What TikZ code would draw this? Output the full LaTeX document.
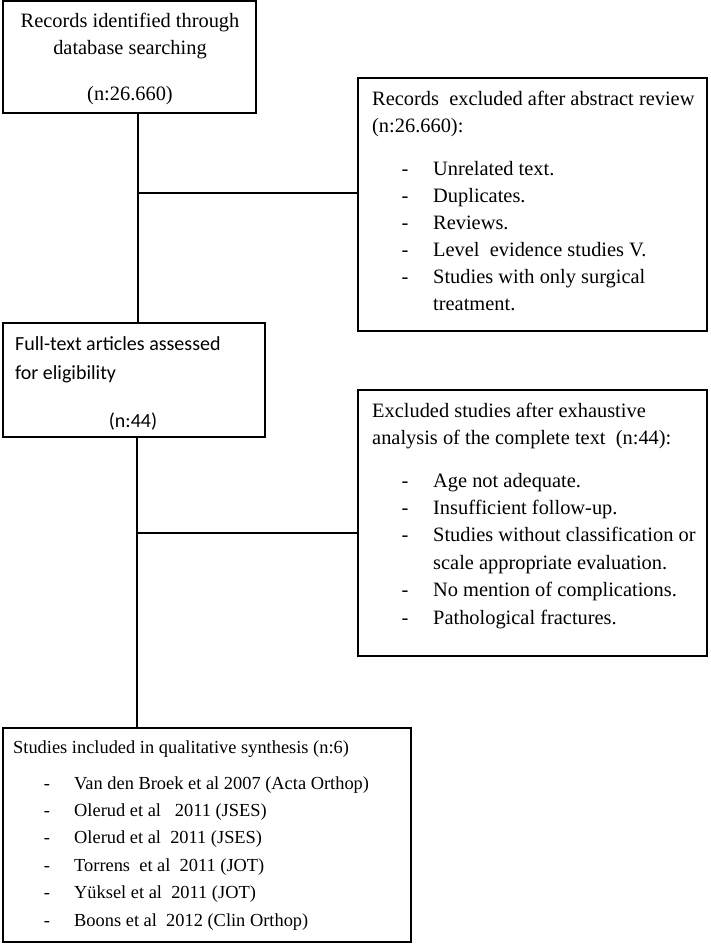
\documentclass[tikz,border=0pt]{standalone}
\usepackage{fontspec}
\setmainfont{Liberation Serif}
\newfontfamily\carlitofont{Carlito}
\begin{document}
\begin{tikzpicture}[x=1pt,y=-1pt,
  box/.style={draw, line width=1.8pt, inner sep=0pt, rectangle},
  txt/.style={inner sep=0pt, anchor=base west, font=\fontsize{20.4pt}{24pt}\selectfont},
  ctxt/.style={txt, anchor=base},
  stxt/.style={inner sep=0pt, anchor=base west, font=\fontsize{18.4pt}{22pt}\selectfont},
  sctxt/.style={stxt, anchor=base},
  ftxt/.style={inner sep=0pt, anchor=base west, font=\carlitofont\fontsize{20pt}{24pt}\selectfont},
  link/.style={line width=1.8pt}]
\useasboundingbox (0,0) rectangle (710,945);
\fill[white] (0,0) rectangle (710,945);

% boxes
\node[box, minimum width=253pt, minimum height=112pt] (b1) at (129.5,57) {};
\node[box, minimum width=349pt, minimum height=253pt] (b3) at (532.5,204.5) {};
\node[box, minimum width=262pt, minimum height=114pt] (b2) at (134,380) {};
\node[box, minimum width=349pt, minimum height=266pt] (b4) at (532.5,523) {};
\node[box, minimum width=408pt, minimum height=214pt] (b5) at (207,835) {};

% connectors
\coordinate (j1) at (138,193);
\coordinate (j2) at (137,533);
\draw[link] (b1.south -| j1) -- (b2.north -| j1);
\draw[link] (j1) -- (j1 -| b3.west);
\draw[link] (b2.south -| j2) -- (b5.north -| j2);
\draw[link] (j2) -- (j2 -| b4.west);

% box 1 text
\node[ctxt] (t1a) at (130,27) {Records identified through};
\node[ctxt] (t1b) at (130,54) {database searching};
\node[ctxt] (t1c) at (130,100) {(n:26.660)};

% box 3 text
\node[txt] (t3a) at (372,105) {Records\ \ excluded after abstract review};
\node[txt] (t3b) at (372,132) {(n:26.660):};
\node[ctxt] (d3a) at (405,175) {-};
\node[txt] (t3c) at (433,175) {Unrelated text.};
\node[ctxt] (d3b) at (405,202) {-};
\node[txt] (t3d) at (433,202) {Duplicates.};
\node[ctxt] (d3c) at (405,229) {-};
\node[txt] (t3e) at (433,229) {Reviews.};
\node[ctxt] (d3d) at (405,256) {-};
\node[txt] (t3f) at (433,256) {Level\ \ evidence studies V.};
\node[ctxt] (d3e) at (405,283) {-};
\node[txt] (t3g) at (433,283) {Studies with only surgical};
\node[txt] (t3h) at (433,310) {treatment.};

% box 2 text
\node[ftxt] (t2a) at (15,350) {Full-text articles assessed};
\node[ftxt] (t2b) at (15,379) {for eligibility};
\node[ftxt, anchor=base] (t2c) at (133,427) {(n:44)};

% box 4 text
\node[txt] (t4a) at (372,417) {Excluded studies after exhaustive};
\node[txt] (t4b) at (372,444) {analysis of the complete text\ \ (n:44):};
\node[ctxt] (d4a) at (405,487) {-};
\node[txt] (t4c) at (433,487) {Age not adequate.};
\node[ctxt] (d4b) at (405,514.4) {-};
\node[txt] (t4d) at (433,514.4) {Insufficient follow-up.};
\node[ctxt] (d4c) at (405,541.8) {-};
\node[txt] (t4e) at (433,541.8) {Studies without classification or};
\node[txt] (t4f) at (433,569.2) {scale appropriate evaluation.};
\node[ctxt] (d4d) at (405,596.6) {-};
\node[txt] (t4g) at (433,596.6) {No mention of complications.};
\node[ctxt] (d4e) at (405,624) {-};
\node[txt] (t4h) at (433,624) {Pathological fractures.};

% box 5 text
\node[stxt] (t5a) at (13,753) {Studies included in qualitative synthesis (n:6)};
\node[sctxt] (d5a) at (47,789) {-};
\node[stxt] (t5b) at (74,789) {Van den Broek et al 2007 (Acta Orthop)};
\node[sctxt] (d5b) at (47,816.4) {-};
\node[stxt] (t5c) at (74,816.4) {Olerud et al\ \ \ 2011 (JSES)};
\node[sctxt] (d5c) at (47,843.8) {-};
\node[stxt] (t5d) at (74,843.8) {Olerud et al\ \ 2011 (JSES)};
\node[sctxt] (d5d) at (47,871.2) {-};
\node[stxt] (t5e) at (74,871.2) {Torrens\ \ et al\ \ 2011 (JOT)};
\node[sctxt] (d5e) at (47,898.6) {-};
\node[stxt] (t5f) at (74,898.6) {Yüksel et al\ \ 2011 (JOT)};
\node[sctxt] (d5f) at (47,926) {-};
\node[stxt] (t5g) at (74,926) {Boons et al\ \ 2012 (Clin Orthop)};
\end{tikzpicture}
\end{document}
